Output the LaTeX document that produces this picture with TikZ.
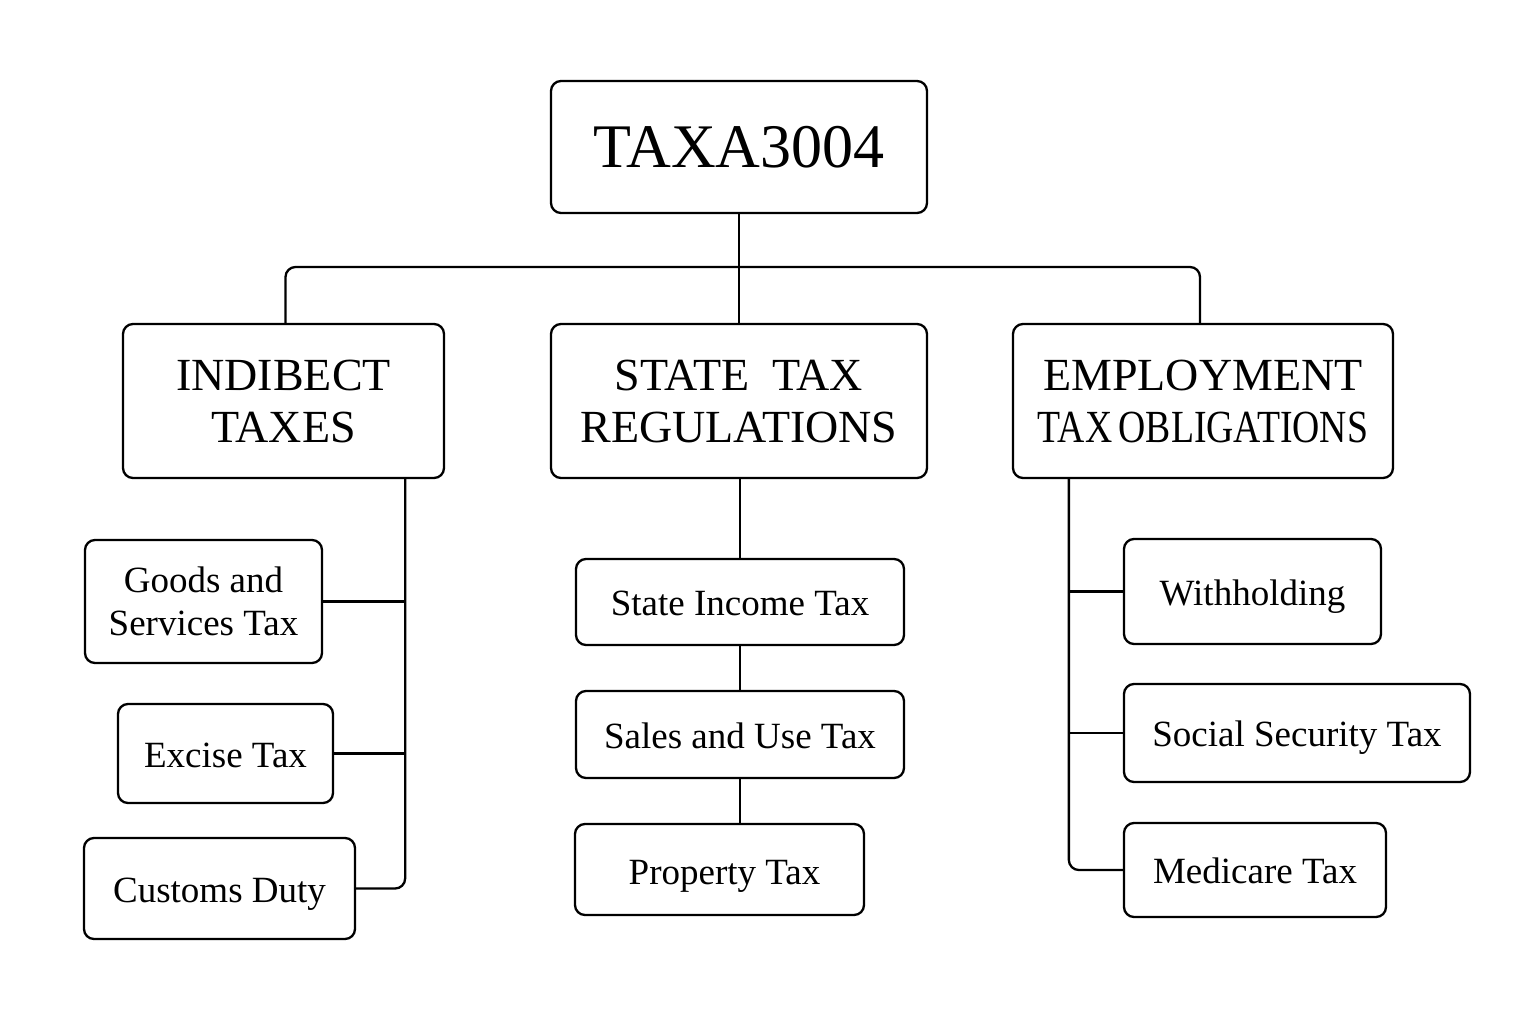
\documentclass[tikz,border=0pt]{standalone}
\usepackage{fontspec}
\usepackage{graphicx}
\setmainfont{Liberation Serif}
\usetikzlibrary{positioning,calc}
\tikzset{
  box/.style={draw, line width=2.3pt, rounded corners=10pt, align=center, inner sep=0pt, fill=white},
  link/.style={line width=2.3pt, rounded corners=10pt},
  bigtxt/.style={font=\fontsize{46}{52}\selectfont},
  smalltxt/.style={font=\fontsize{37}{43}\selectfont},
  oneline/.style={smalltxt, text height=27pt, text depth=0pt},
}
\begin{document}
\begin{tikzpicture}[x=1pt,y=-1pt]
\useasboundingbox (0,0) rectangle (1536,1024);
\fill[white] (0,0) rectangle (1536,1024);
% top
\node[box, minimum width=376pt, minimum height=132pt, font=\fontsize{62}{70}\selectfont] (root) at (739,147) {TAXA3004};
% level 2
\node[box, bigtxt, minimum width=321pt, minimum height=154pt] (ind) at (283.5,401) {INDIBECT\\TAXES};
\node[box, bigtxt, minimum width=376pt, minimum height=154pt] (state) at (739,401) {STATE\ \ TAX\\REGULATIONS};
\node[box, bigtxt, minimum width=380pt, minimum height=154pt] (emp) at (1203,401) {EMPLOYMENT\\\scalebox{0.82}[1]{TAX\,OBLIGATIONS}};
% left leaves
\node[box, smalltxt, minimum width=237pt, minimum height=123pt] (gst) at (203.5,601.5) {Goods and\\Services Tax};
\node[box, oneline, minimum width=215pt, minimum height=99pt] (exc) at (225.5,753.5) {Excise Tax};
\node[box, oneline, minimum width=271pt, minimum height=101pt] (cus) at (219.5,888.5) {Customs Duty};
% middle leaves
\node[box, oneline, minimum width=328pt, minimum height=86pt] (sit) at (740,602) {State Income Tax};
\node[box, oneline, minimum width=328pt, minimum height=87pt] (sut) at (740,734.5) {Sales and Use Tax};
\node[box, oneline, minimum width=289pt, minimum height=91pt, text height=30pt] (prop) at (719.5,869.5) {\hspace*{10pt}Property Tax};
% right leaves
\node[box, oneline, minimum width=257pt, minimum height=105pt] (wh) at (1252.5,591.5) {Withholding};
\node[box, oneline, minimum width=346pt, minimum height=98pt] (ss) at (1297,733) {Social Security Tax};
\node[box, oneline, minimum width=262pt, minimum height=94pt] (med) at (1255,870) {Medicare Tax};
% connectors
\coordinate (bar) at (740,267);
\draw[link] (root.south) -- (root.south |- state.north);
\draw[link] ([xshift=2pt]ind.north) |- (bar) -| ([xshift=-3pt]emp.north);
\coordinate (lt) at ([xshift=-40pt]ind.south east);
\draw[link] (lt) |- (cus.east);
\draw[link] (gst.east) -- (gst.east -| lt);
\draw[link] (exc.east) -- (exc.east -| lt);
\coordinate (rt) at ([xshift=57pt]emp.south west);
\draw[link] (rt) |- (med.west);
\draw[link] (wh.west -| rt) -- (wh.west);
\draw[link] (ss.west -| rt) -- (ss.west);
\draw[link] (sit.north |- state.south) -- (sit.north);
\draw[link] (sit.south) -- (sut.north);
\draw[link] (sut.south) -- (sut.south |- prop.north);
\end{tikzpicture}
\end{document}
